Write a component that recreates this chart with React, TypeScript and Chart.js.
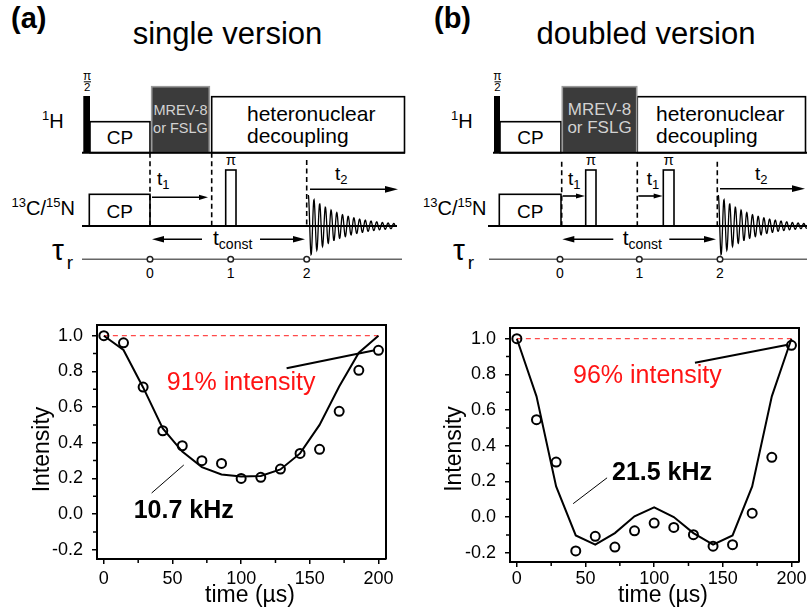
import React, { useEffect, useRef } from "react";
import { Chart, registerables } from "chart.js";

Chart.register(...registerables);

const FONT = "'Liberation Sans', Arial, Helvetica, sans-serif";

// Evolution time of the recoupling period (µs)
const timeUs = [0, 14.3, 28.6, 42.9, 57.1, 71.4, 85.7, 100, 114.3, 128.6, 142.9, 157.1, 171.4, 185.7, 200];

// Single version: measured intensities and simulated curve
const singleMeasured = [1.0, 0.96, 0.712, 0.467, 0.383, 0.299, 0.284, 0.2, 0.206, 0.252, 0.34, 0.363, 0.576, 0.806, 0.918];
const singleSimulated = [1.0, 0.92, 0.71, 0.48, 0.35, 0.263, 0.222, 0.21, 0.214, 0.25, 0.34, 0.5, 0.715, 0.905, 1.0];

// Doubled version: measured intensities and simulated curve
const doubledMeasured = [1.0, 0.546, 0.308, -0.19, -0.108, -0.168, -0.077, -0.034, -0.058, -0.099, -0.163, -0.155, 0.022, 0.335, 0.963];
const doubledSimulated = [1.0, 0.677, 0.172, -0.103, -0.155, -0.09, 0.004, 0.054, 0.0, -0.09, -0.155, -0.103, 0.172, 0.677, 1.0];

// Axis ticks
const xMajorStep = 50;
const yMajorStep = 0.2;
const xMinorTicks = [25, 75, 125, 175];
const yMinorTicks = [-0.1, 0.1, 0.3, 0.5, 0.7, 0.9];

// Reference level (full intensity) and the rotor-period marks of the sequence
const referenceLevel = 1.0;
const rotorPeriods = ["0", "1", "2"];

type Note = { text: string; x: number; y: number; color: string; font: string };
type Pointer = { from: [number, number]; to: [number, number]; width: number };

type PanelProps = {
  left: number;
  width: number;
  yAxisWidth: number;
  xAxisHeight: number;
  padTop: number;
  padRight: number;
  xTickPad: number;
  measured: number[];
  simulated: number[];
  notes: Note[];
  pointers: Pointer[];
  yTitle: { x: number; y: number };
  xTitle: { x: number; y: number };
};

const decorPlugin = {
  id: "decor",
  afterDraw(chart: any, _args: any, opts: any) {
    const { ctx, chartArea: a, scales } = chart;
    const x = scales.x;
    const y = scales.y;
    ctx.save();
    ctx.strokeStyle = "#000";
    ctx.lineWidth = 2;
    ctx.beginPath();
    ctx.moveTo(a.left, a.top);
    ctx.lineTo(a.right, a.top);
    ctx.lineTo(a.right, a.bottom);
    ctx.stroke();

    ctx.lineWidth = 1.5;
    ctx.beginPath();
    for (const v of xMinorTicks) {
      const px = x.getPixelForValue(v);
      ctx.moveTo(px, a.bottom);
      ctx.lineTo(px, a.bottom + 4);
    }
    for (const v of yMinorTicks) {
      const py = y.getPixelForValue(v);
      ctx.moveTo(a.left - 4, py);
      ctx.lineTo(a.left, py);
    }
    ctx.stroke();

    ctx.fillStyle = "#000";
    ctx.font = `23px ${FONT}`;
    ctx.textAlign = "center";
    ctx.textBaseline = "alphabetic";
    ctx.fillText("time (µs)", opts.xTitle.x, opts.xTitle.y);
    ctx.save();
    ctx.translate(opts.yTitle.x, opts.yTitle.y);
    ctx.rotate(-Math.PI / 2);
    ctx.fillText("Intensity", 0, 0);
    ctx.restore();

    ctx.textAlign = "left";
    for (const n of opts.notes as Note[]) {
      ctx.font = n.font;
      ctx.fillStyle = n.color;
      ctx.fillText(n.text, x.getPixelForValue(n.x), y.getPixelForValue(n.y));
    }
    ctx.restore();
  },
};

function DecayPanel(p: PanelProps) {
  const ref = useRef<HTMLCanvasElement>(null);
  useEffect(() => {
    const pts = (ys: number[]) => timeUs.map((t, i) => ({ x: t, y: ys[i] }));
    const chart = new Chart(ref.current as HTMLCanvasElement, {
      type: "scatter",
      data: {
        datasets: [
          {
            data: pts(p.measured),
            showLine: false,
            pointRadius: 4.5,
            pointBorderWidth: 2,
            pointBorderColor: "#000",
            pointBackgroundColor: "rgba(0,0,0,0)",
          },
          {
            data: pts(p.simulated),
            showLine: true,
            pointRadius: 0,
            borderColor: "#000",
            borderWidth: 2,
            tension: 0,
          },
          {
            data: [
              { x: timeUs[0], y: referenceLevel },
              { x: timeUs[timeUs.length - 1], y: referenceLevel },
            ],
            showLine: true,
            pointRadius: 0,
            borderColor: "#ff4a4a",
            borderWidth: 1.2,
            borderDash: [5, 4],
          },
          ...p.pointers.map((ptr) => ({
            data: [
              { x: ptr.from[0], y: ptr.from[1] },
              { x: ptr.to[0], y: ptr.to[1] },
            ],
            showLine: true,
            pointRadius: 0,
            borderColor: "#000",
            borderWidth: ptr.width,
          })),
        ],
      } as any,
      options: {
        responsive: false,
        animation: false,
        layout: { padding: { top: p.padTop, right: p.padRight, left: 0, bottom: 0 } },
        plugins: {
          legend: { display: false },
          tooltip: { enabled: false },
          decor: { notes: p.notes, yTitle: p.yTitle, xTitle: p.xTitle },
        } as any,
        scales: {
          x: {
            type: "linear",
            min: -5,
            max: 205.5,
            afterFit(s: any) {
              s.height = p.xAxisHeight;
              s.paddingLeft = 0;
              s.paddingRight = 0;
            },
            ticks: {
              stepSize: xMajorStep,
              includeBounds: false,
              padding: p.xTickPad,
              color: "#000",
              maxRotation: 0,
              autoSkip: false,
              font: { family: FONT, size: 18 },
              callback: (v: any) => String(v),
            },
            grid: { drawOnChartArea: false, tickLength: 5, lineWidth: 1.5, color: "#000" },
            border: { color: "#000", width: 2 },
          },
          y: {
            type: "linear",
            min: -0.252,
            max: 1.06,
            afterFit(s: any) {
              s.width = p.yAxisWidth;
              s.paddingTop = 0;
              s.paddingBottom = 0;
            },
            ticks: {
              stepSize: yMajorStep,
              includeBounds: false,
              padding: 9,
              color: "#000",
              autoSkip: false,
              font: { family: FONT, size: 18 },
              callback: (v: any) => Number(v).toFixed(1),
            },
            grid: { drawOnChartArea: false, tickLength: 5, lineWidth: 1.5, color: "#000" },
            border: { color: "#000", width: 2 },
          },
        },
      } as any,
      plugins: [decorPlugin],
    });
    return () => chart.destroy();
  }, []);
  return (
    <canvas
      ref={ref}
      width={p.width}
      height={301}
      style={{ position: "absolute", left: p.left, top: 310, width: p.width, height: 301 }}
    />
  );
}

/* ---------- pulse sequence drawing ---------- */

type Seq = {
  tag: string;
  tagX: number;
  title: string;
  titleX: number;
  hLabelX: number;
  cnLabelEnd: number;
  tauLabelX: number;
  h1: [number, number];
  c13: [number, number];
  tauLine: [number, number];
  pi2: [number, number];
  cp: [number, number];
  mrev: [number, number];
  mrevFont: number;
  dec: [number, number];
  decTextX: number;
  cp13: [number, number];
  piPulses: [number, number][];
  dashes: { x: number; y0: number }[];
  t1: { x0: number; x1: number; y: number; lx: number }[];
  t2: { x0: number; x1: number; y: number; lx: number };
  tconst: { lx: number; left: [number, number]; right: [number, number] };
  rotor: number[];
  fid: [number, number];
};

const Y_H = 152.7;
const Y_C = 226;
const Y_TAU = 259.3;

const seqSingle: Seq = {
  tag: "(a)",
  tagX: 11,
  title: "single version",
  titleX: 227.5,
  hLabelX: 42,
  cnLabelEnd: 75,
  tauLabelX: 52,
  h1: [82, 405],
  c13: [82, 397],
  tauLine: [82, 402],
  pi2: [83.3, 90],
  cp: [90, 150],
  mrev: [151.7, 209.3],
  mrevFont: 14.5,
  dec: [211.7, 404.5],
  decTextX: 247,
  cp13: [89.3, 150],
  piPulses: [[225.7, 236]],
  dashes: [
    { x: 150, y0: Y_H },
    { x: 211.7, y0: Y_H },
    { x: 306.7, y0: 160 },
  ],
  t1: [{ x0: 152, x1: 208, y: 197.3, lx: 157 }],
  t2: { x0: 310, x1: 398, y: 189.3, lx: 335 },
  tconst: { lx: 213, left: [202, 152], right: [260, 305] },
  rotor: [150, 230.7, 306.7],
  fid: [308.3, 395],
};

const seqDoubled: Seq = {
  tag: "(b)",
  tagX: 434,
  title: "doubled version",
  titleX: 646,
  hLabelX: 451,
  cnLabelEnd: 486.5,
  tauLabelX: 453,
  h1: [493, 807],
  c13: [488, 807],
  tauLine: [489, 807],
  pi2: [494, 500],
  cp: [500, 561],
  mrev: [562.3, 636.7],
  mrevFont: 17,
  dec: [637.3, 805.5],
  decTextX: 656,
  cp13: [499.3, 561],
  piPulses: [
    [585.7, 596],
    [663.3, 674],
  ],
  dashes: [
    { x: 561.7, y0: 161.7 },
    { x: 637.3, y0: 161.7 },
    { x: 717.3, y0: 161.7 },
  ],
  t1: [
    { x0: 562.7, x1: 585, y: 196, lx: 568 },
    { x0: 638.3, x1: 662.7, y: 196, lx: 646.7 },
  ],
  t2: { x0: 720, x1: 805, y: 188.7, lx: 755 },
  tconst: { lx: 622.7, left: [613.3, 562.3], right: [669.3, 716] },
  rotor: [560, 639.3, 720],
  fid: [718.3, 807],
};

function Arrow({ x0, x1, y, hl = 10, hw = 3 }: { x0: number; x1: number; y: number; hl?: number; hw?: number }) {
  const dir = Math.sign(x1 - x0);
  return (
    <g>
      <line x1={x0} y1={y} x2={x1 - dir * hl * 0.7} y2={y} stroke="#000" strokeWidth={1.6} />
      <polygon points={`${x1},${y} ${x1 - dir * hl},${y - hw} ${x1 - dir * hl},${y + hw}`} fill="#000" />
    </g>
  );
}

function fidPath(x0: number, x1: number, base: number) {
  const amp = 31;
  const period = 5.7;
  const decay = 34;
  let d = "";
  for (let xx = x0; xx <= x1; xx += 0.25) {
    const t = xx - x0;
    const yy = base - amp * Math.exp(-t / decay) * Math.cos((2 * Math.PI * t) / period);
    d += (d ? "L" : "M") + xx.toFixed(2) + " " + yy.toFixed(2);
  }
  return d;
}

function Sequence({ s }: { s: Seq }) {
  const box = (x: [number, number], y0: number, y1: number, fill = "#fff", stroke = "#000") => (
    <rect x={x[0]} y={y0} width={x[1] - x[0]} height={y1 - y0} fill={fill} stroke={stroke} strokeWidth={1.6} />
  );
  const mrevC = (s.mrev[0] + s.mrev[1]) / 2;
  return (
    <g fontFamily={FONT}>
      <text x={s.tagX} y={27.5} fontSize={29} fontWeight="bold">
        {s.tag}
      </text>
      <text x={s.titleX} y={44} fontSize={31} textAnchor="middle">
        {s.title}
      </text>

      {/* channel labels */}
      <text x={s.hLabelX} y={128} fontSize={20}>
        <tspan fontSize={13} dy={-8}>1</tspan>
        <tspan dy={8}>H</tspan>
      </text>
      <text x={s.cnLabelEnd} y={214.5} fontSize={20} textAnchor="end">
        <tspan fontSize={13} dy={-8}>13</tspan>
        <tspan dy={8}>C/</tspan>
        <tspan fontSize={13} dy={-8}>15</tspan>
        <tspan dy={8}>N</tspan>
      </text>
      <text x={s.tauLabelX} y={260} fontSize={30}>
        τ<tspan fontSize={19} dx={3} dy={9}>r</tspan>
      </text>

      {/* 1H channel */}
      {box(s.cp, 121.7, Y_H)}
      {box(s.dec, 96.7, Y_H)}
      {box(s.mrev, 86.7, Y_H, "#3b3b3b", "#9a9a9a")}
      <rect x={s.pi2[0]} y={96} width={s.pi2[1] - s.pi2[0]} height={Y_H - 96} fill="#000" />
      <line x1={s.h1[0]} y1={Y_H} x2={s.h1[1]} y2={Y_H} stroke="#000" strokeWidth={2} />
      <text x={(s.pi2[0] + s.pi2[1]) / 2 + 0.5} y={80} fontSize={12} textAnchor="middle">
        π
      </text>
      <line x1={s.pi2[0] + 0.5} y1={81.8} x2={s.pi2[1] + 1} y2={81.8} stroke="#000" strokeWidth={1} />
      <text x={(s.pi2[0] + s.pi2[1]) / 2 + 0.5} y={91} fontSize={11.5} textAnchor="middle">
        2
      </text>
      <text x={(s.cp[0] + s.cp[1]) / 2} y={144} fontSize={19} textAnchor="middle">
        CP
      </text>
      <text x={mrevC} y={115} fontSize={s.mrevFont} textAnchor="middle" fill="#d2d2d2">
        MREV-8
      </text>
      <text x={mrevC} y={133.3} fontSize={s.mrevFont} textAnchor="middle" fill="#d2d2d2">
        or FSLG
      </text>
      <text x={s.decTextX} y={120.5} fontSize={21}>
        heteronuclear
      </text>
      <text x={s.decTextX} y={143} fontSize={21}>
        decoupling
      </text>

      {/* 13C/15N channel */}
      {box(s.cp13, 194.3, Y_C)}
      <text x={(s.cp13[0] + s.cp13[1]) / 2} y={218} fontSize={19} textAnchor="middle">
        CP
      </text>
      {s.piPulses.map((pp, i) => (
        <g key={i}>
          {box(pp, 170, Y_C)}
          <text x={(pp[0] + pp[1]) / 2} y={165} fontSize={15} textAnchor="middle">
            π
          </text>
        </g>
      ))}
      {s.dashes.map((d, i) => (
        <line key={i} x1={d.x} y1={d.y0} x2={d.x} y2={Y_C} stroke="#000" strokeWidth={1.6} strokeDasharray="5 3.5" />
      ))}
      <path d={fidPath(s.fid[0], s.fid[1], Y_C)} fill="none" stroke="#000" strokeWidth={1.3} />
      <line x1={s.c13[0]} y1={Y_C} x2={s.c13[1]} y2={Y_C} stroke="#000" strokeWidth={2} />

      {/* evolution periods */}
      {s.t1.map((t, i) => (
        <g key={i}>
          <Arrow x0={t.x0} x1={t.x1} y={t.y} hl={9} hw={2.6} />
          <text x={t.lx} y={185} fontSize={19}>
            t<tspan fontSize={13} dy={4}>1</tspan>
          </text>
        </g>
      ))}
      <Arrow x0={s.t2.x0} x1={s.t2.x1} y={s.t2.y} hl={13} hw={3.4} />
      <text x={s.t2.lx} y={180} fontSize={19}>
        t<tspan fontSize={13} dy={4}>2</tspan>
      </text>
      <Arrow x0={s.tconst.left[0]} x1={s.tconst.left[1]} y={239.3} hl={12} hw={3.2} />
      <Arrow x0={s.tconst.right[0]} x1={s.tconst.right[1]} y={239.3} hl={12} hw={3.2} />
      <text x={s.tconst.lx} y={245} fontSize={21}>
        t<tspan fontSize={14} dy={3.5}>const</tspan>
      </text>

      {/* rotor period axis */}
      <line x1={s.tauLine[0]} y1={Y_TAU} x2={s.tauLine[1]} y2={Y_TAU} stroke="#666" strokeWidth={1.6} />
      {s.rotor.map((rx, i) => (
        <g key={i}>
          <circle cx={rx} cy={Y_TAU} r={2.8} fill="#fff" stroke="#222" strokeWidth={1.5} />
          <text x={rx} y={278} fontSize={14} textAnchor="middle">
            {rotorPeriods[i]}
          </text>
        </g>
      ))}
    </g>
  );
}

const singleNotes: Note[] = [
  { text: "91% intensity", x: 45.8, y: 0.695, color: "#ff1414", font: `25px ${FONT}` },
  { text: "10.7 kHz", x: 21.7, y: -0.024, color: "#000", font: `bold 25px ${FONT}` },
];
const doubledNotes: Note[] = [
  { text: "96% intensity", x: 40.9, y: 0.75, color: "#ff1414", font: `25px ${FONT}` },
  { text: "21.5 kHz", x: 69.3, y: 0.21, color: "#000", font: `bold 25px ${FONT}` },
];
const singlePointers: Pointer[] = [
  { from: [133.1, 0.817], to: [196.4, 0.917], width: 2 },
  { from: [34.8, 0.118], to: [58.2, 0.275], width: 1 },
];
const doubledPointers: Pointer[] = [
  { from: [129.7, 0.865], to: [196.4, 0.965], width: 2 },
  { from: [41, 0.075], to: [65.7, 0.22], width: 1 },
];

export default function App() {
  return (
    <div
      style={{
        position: "fixed",
        left: 0,
        top: 0,
        width: 807,
        height: 611,
        background: "#fff",
        overflow: "hidden",
      }}
    >
      <svg width={807} height={300} style={{ position: "absolute", left: 0, top: 0 }}>
        <Sequence s={seqSingle} />
        <Sequence s={seqDoubled} />
      </svg>
      <DecayPanel
        left={0}
        width={405}
        yAxisWidth={97}
        xAxisHeight={52}
        padTop={15}
        padRight={19}
        xTickPad={4}
        measured={singleMeasured}
        simulated={singleSimulated}
        notes={singleNotes}
        pointers={singlePointers}
        yTitle={{ x: 48.5, y: 139.5 }}
        xTitle={{ x: 250, y: 292 }}
      />
      <DecayPanel
        left={405}
        width={402}
        yAxisWidth={105}
        xAxisHeight={49}
        padTop={18}
        padRight={8}
        xTickPad={1.5}
        measured={doubledMeasured}
        simulated={doubledSimulated}
        notes={doubledNotes}
        pointers={doubledPointers}
        yTitle={{ x: 56, y: 139 }}
        xTitle={{ x: 258, y: 291.5 }}
      />
    </div>
  );
}
